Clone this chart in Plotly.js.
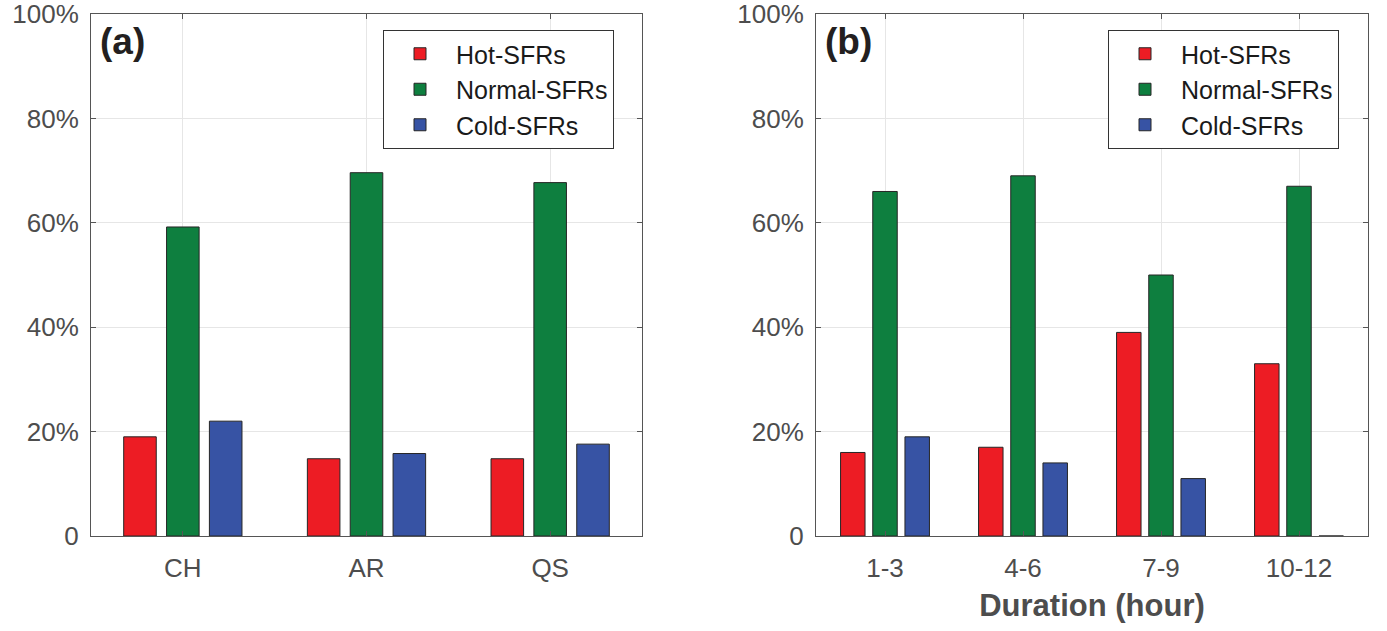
<!DOCTYPE html>
<html>
<head>
<meta charset="utf-8">
<script src="https://cdn.plot.ly/plotly-3.0.1.min.js"></script>
<style>html,body{margin:0;padding:0;background:#fff;}#chart{width:1387px;height:631px;}</style>
</head>
<body>
<div id="chart"></div>
<script>
// ---- data ----
const seriesNames = ["Hot-SFRs", "Normal-SFRs", "Cold-SFRs"];
const regionCats = ["CH", "AR", "QS"];
const regionHot = [0.19, 0.148, 0.148];
const regionNormal = [0.592, 0.696, 0.677];
const regionCold = [0.22, 0.158, 0.176];
const durationCats = ["1-3", "4-6", "7-9", "10-12"];
const durationHot = [0.16, 0.17, 0.39, 0.33];
const durationNormal = [0.66, 0.69, 0.50, 0.67];
const durationCold = [0.19, 0.14, 0.11, 0.0];
const yTickVals = [0, 0.2, 0.4, 0.6, 0.8, 1.0];
const yTickText = ["0", "20%", "40%", "60%", "80%", "100%"];
const panelLabels = ["(a)", "(b)"];
const xTitleB = "Duration (hour)";

// ---- style ----
const colors = ["#ED1C24", "#0E7F3F", "#3753A4"];
const FONT = "Liberation Sans, Arial, Helvetica, sans-serif";
const W = 1387, H = 631;

function mk(name, x, y, i, xa, ya, leg) {
  return {
    type: "bar", name: name, x: x, y: y,
    xaxis: xa, yaxis: ya, legend: leg,
    marker: {color: colors[i], line: {color: "#262626", width: 1}},
    hoverinfo: "x+y+name"
  };
}
const regionVals = [regionHot, regionNormal, regionCold];
const durationVals = [durationHot, durationNormal, durationCold];
const traces = [];
seriesNames.forEach((n, i) => traces.push(mk(n, regionCats, regionVals[i], i, "x", "y", "legend")));
seriesNames.forEach((n, i) => traces.push(mk(n, durationCats, durationVals[i], i, "x2", "y2", "legend2")));

const yTop = 1 - 14 / H, yBot = 1 - 536 / H;
function xax(domain) {
  return {
    domain: domain, type: "category",
    showgrid: true, gridcolor: "#e6e6e6", gridwidth: 1,
    showline: true, linecolor: "#555", linewidth: 1, mirror: "ticks",
    ticks: "inside", ticklen: 5, tickcolor: "#555",
    ticklabelstandoff: 9, ticklabeloverflow: "allow",
    tickfont: {family: FONT, size: 26, color: "#4d4d4d"},
    zeroline: false, fixedrange: true
  };
}
function yax(anchor) {
  return {
    domain: [yBot, yTop], anchor: anchor, range: [0, 1],
    tickmode: "array", tickvals: yTickVals, ticktext: yTickText,
    showgrid: true, gridcolor: "#e6e6e6", gridwidth: 1,
    showline: true, linecolor: "#555", linewidth: 1, mirror: "ticks",
    ticks: "inside", ticklen: 5, tickcolor: "#555",
    ticklabelstandoff: 6, ticklabeloverflow: "allow",
    tickfont: {family: FONT, size: 26, color: "#4d4d4d"},
    zeroline: false, fixedrange: true
  };
}
const xa1 = xax([91 / W, 642 / W]); xa1.anchor = "y";
const xa2 = xax([816 / W, 1368 / W]); xa2.anchor = "y2";
xa2.title = {text: "<b>" + xTitleB + "</b>", font: {family: FONT, size: 31, color: "#4d4d4d"}, standoff: 12};

function legendCfg(xpx) {
  return {
    x: xpx / W, y: 1 - 30 / H, xanchor: "left", yanchor: "top",
    bgcolor: "#fff", bordercolor: "#333", borderwidth: 1,
    font: {family: FONT, size: 25, color: "#1a1a1a"},
    itemwidth: 62, tracegroupgap: 0
  };
}

const layout = {
  width: W, height: H,
  margin: {l: 0, r: 0, t: 0, b: 0},
  paper_bgcolor: "#fff", plot_bgcolor: "#fff",
  barmode: "group", bargap: 0.3, bargroupgap: 0.24,
  xaxis: xa1, yaxis: yax("x"),
  xaxis2: xa2, yaxis2: yax("x2"),
  legend: legendCfg(383),
  legend2: legendCfg(1108),
  showlegend: true,
  annotations: [
    {text: "<b>" + panelLabels[0] + "</b>", xref: "x domain", yref: "y domain", x: 0.012, y: 0.99,
     xanchor: "left", yanchor: "top", showarrow: false, font: {family: FONT, size: 37, color: "#231f20"}},
    {text: "<b>" + panelLabels[1] + "</b>", xref: "x2 domain", yref: "y2 domain", x: 0.012, y: 0.99,
     xanchor: "left", yanchor: "top", showarrow: false, font: {family: FONT, size: 37, color: "#231f20"}}
  ]
};
Plotly.newPlot("chart", traces, layout, {displayModeBar: false, staticPlot: true});
</script>
</body>
</html>
